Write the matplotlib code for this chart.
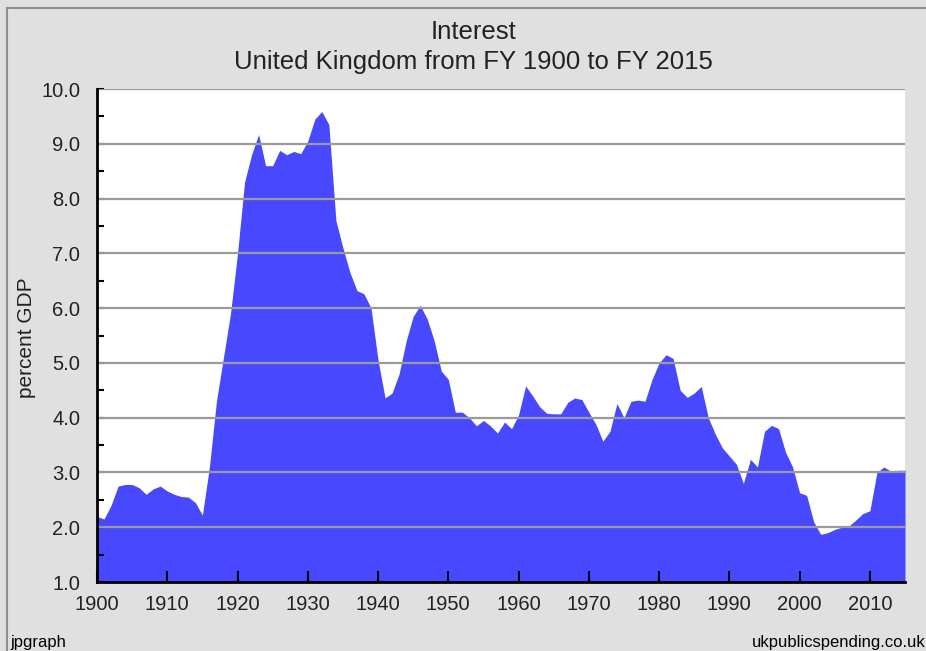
import numpy as np
import matplotlib
matplotlib.use("Agg")
import matplotlib.pyplot as plt
from matplotlib.ticker import MultipleLocator, FormatStrFormatter

plt.rcParams["font.family"] = ["Liberation Sans", "DejaVu Sans"]

# interest as percent of GDP, FY 1900-2015
years = list(range(1900, 2016))
interest = [
    2.20, 2.15, 2.40, 2.75, 2.78, 2.78, 2.72, 2.60, 2.70, 2.75,   # 1900s
    2.66, 2.60, 2.56, 2.55, 2.45, 2.22, 3.10, 4.30, 5.10, 5.90,   # 1910s
    7.00, 8.30, 8.80, 9.17, 8.60, 8.60, 8.88, 8.80, 8.86, 8.82,   # 1920s
    9.05, 9.45, 9.59, 9.35, 7.60, 7.10, 6.65, 6.32, 6.26, 6.00,   # 1930s
    5.05, 4.36, 4.45, 4.80, 5.40, 5.85, 6.05, 5.80, 5.40, 4.85,   # 1940s
    4.70, 4.10, 4.10, 4.00, 3.85, 3.95, 3.85, 3.72, 3.92, 3.80,   # 1950s
    4.05, 4.58, 4.40, 4.20, 4.08, 4.07, 4.07, 4.28, 4.36, 4.33,   # 1960s
    4.10, 3.88, 3.57, 3.75, 4.26, 4.00, 4.30, 4.32, 4.30, 4.70,   # 1970s
    5.00, 5.15, 5.08, 4.50, 4.37, 4.45, 4.57, 4.00, 3.70, 3.45,   # 1980s
    3.30, 3.15, 2.80, 3.24, 3.10, 3.75, 3.86, 3.80, 3.37, 3.10,   # 1990s
    2.63, 2.58, 2.10, 1.87, 1.90, 1.96, 2.00, 2.02, 2.13, 2.25,   # 2000s
    2.30, 3.00, 3.10, 3.02, 3.04, 3.04,                           # 2010s
]

title = "Interest"
subtitle = "United Kingdom from FY 1900 to FY 2015"
ylabel = "percent GDP"

bg = "#e0e0e0"
fill_col = "#4848ff"
txt = "#222222"

fig = plt.figure(figsize=(9.26, 6.51), dpi=100, facecolor=bg)
ax = fig.add_axes([97/926, 1 - 582/651, (905-97)/926, (582-89)/651])
ax.set_facecolor("white")

ax.fill_between(years, interest, 1.0, color=fill_col, linewidth=0, zorder=1)

ax.set_xlim(1900, 2015)
ax.set_ylim(1.0, 10.0)

for v in range(2, 11):
    ax.axhline(v, color="#9a9a9a", linewidth=1.6, zorder=2)

ax.xaxis.set_major_locator(MultipleLocator(10))
ax.yaxis.set_major_locator(MultipleLocator(1))
ax.yaxis.set_minor_locator(MultipleLocator(0.5))
ax.yaxis.set_major_formatter(FormatStrFormatter("%.1f"))

ax.tick_params(axis="x", direction="in", length=8, width=1.5, color="black",
               labelsize=14.5, labelcolor=txt, pad=9, top=False)
ax.tick_params(axis="y", which="both", direction="in", length=5, width=1.5,
               color="black", labelsize=14.5, labelcolor=txt, pad=12, right=False)

for s in ["top", "right"]:
    ax.spines[s].set_visible(False)
for s in ["left", "bottom"]:
    ax.spines[s].set_linewidth(2)
    ax.spines[s].set_color("black")
    ax.spines[s].set_zorder(5)

fig.text(473.5/926, 1 - 32/651, title, ha="center", va="center", fontsize=18.5, color=txt)
fig.text(473.5/926, 1 - 62/651, subtitle, ha="center", va="center", fontsize=18.5, color=txt)
fig.text(26/926, 1 - 338/651, ylabel, ha="center", va="center", rotation=90,
         fontsize=15, color=txt)
fig.text(10/926, 1 - 642/651, "jpgraph", ha="left", va="center", fontsize=12, color="black")
fig.text(926/926, 1 - 642/651, "ukpublicspending.co.uk", ha="right", va="center",
         fontsize=12, color="black")

# thin frame around the image
fig.add_artist(plt.Line2D([7/926, 7/926], [0, 1 - 8/651], transform=fig.transFigure,
                          color="#909090", linewidth=1.5))
fig.add_artist(plt.Line2D([7/926, 1], [1 - 8/651, 1 - 8/651], transform=fig.transFigure,
                          color="#909090", linewidth=1.5))

fig.savefig("out.png", dpi=100, facecolor=bg)
